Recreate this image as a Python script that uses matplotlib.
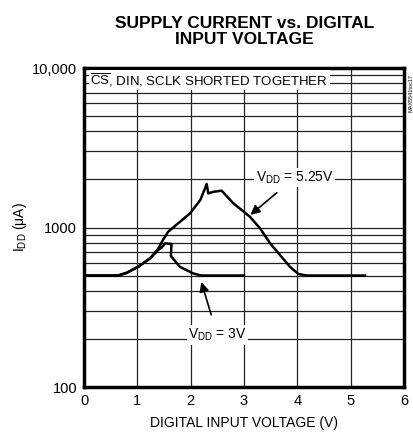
import matplotlib
matplotlib.use("Agg")
import matplotlib.pyplot as plt
from matplotlib import font_manager

# fuente estrecha si existe, si no Liberation Sans
nombres = set(f.name for f in font_manager.fontManager.ttflist)
estrecha = "Liberation Sans Narrow" in nombres
fuente = "Liberation Sans Narrow" if estrecha else "Liberation Sans"
k = 1.18 if estrecha else 1.0
plt.rcParams['font.family'] = [fuente, 'DejaVu Sans']
plt.rcParams['mathtext.fontset'] = 'custom'
plt.rcParams['mathtext.rm'] = fuente

# Datos (V, uA)
v_525 = [0.0, 0.64, 0.80, 1.02, 1.24, 1.39, 1.48, 1.58, 1.99, 2.18, 2.27, 2.30, 2.33,
         2.43, 2.58, 2.80, 3.11, 3.30, 3.49, 3.675, 3.86, 4.02, 4.18, 5.27]
i_525 = [500, 500, 520, 568, 641, 735, 835, 942, 1228, 1486, 1762, 1876, 1637,
         1675, 1702, 1419, 1169, 989, 796, 672, 568, 511, 500, 500]

v_3 = [0.0, 0.64, 0.80, 1.02, 1.24, 1.39, 1.46, 1.52, 1.64, 1.63, 1.80, 2.05, 2.20, 3.0]
i_3 = [500, 500, 520, 568, 641, 722, 751, 796, 789, 662, 566, 515, 500, 500]

x_ticks = [0, 1, 2, 3, 4, 5, 6]
y_ticks = [100, 1000, 10000]
y_tick_labels = ["100", "1000", "10,000"]

fig = plt.figure(figsize=(4.14, 4.43), dpi=100)
ax = fig.add_axes([0.2029, 0.1264, 0.7729, 0.7201])

ax.set_yscale("log")
ax.set_xlim(0, 6)
ax.set_ylim(100, 10000)

# rejilla
ax.grid(True, which="major", color="#222222", linewidth=0.9)
ax.grid(True, which="minor", axis="y", color="#222222", linewidth=0.9)
ax.set_axisbelow(True)

ax.plot(v_525, i_525, color="black", linewidth=1.8, zorder=3)
ax.plot(v_3, i_3, color="black", linewidth=1.8, zorder=3)

ax.set_xticks(x_ticks)
ax.set_xticklabels([str(t) for t in x_ticks], fontsize=10.5 * k)
ax.set_yticks(y_ticks)
ax.set_yticklabels(y_tick_labels, fontsize=10.5 * k)
ax.yaxis.set_minor_formatter(plt.NullFormatter())
ax.tick_params(which="both", length=0, pad=5)

for s in ax.spines.values():
    s.set_linewidth(2.5)

ax.set_xlabel("DIGITAL INPUT VOLTAGE (V)", fontsize=10 * k, labelpad=6)
ax.set_ylabel(r"I$_{\mathregular{DD}}$ ($\mathregular{\mu}$A)", fontsize=10 * k, labelpad=2)

fig.text(0.59, 0.965, "SUPPLY CURRENT vs. DIGITAL\nINPUT VOLTAGE", ha="center", va="top",
         fontsize=12.5 * k, fontweight="bold", linespacing=1.15)

caja = dict(facecolor="white", edgecolor="none", pad=1)
ax.text(0.12, 8400, r"$\overline{\mathregular{CS}}$, DIN, SCLK SHORTED TOGETHER", fontsize=9.5 * k,
        va="center", ha="left", bbox=caja, zorder=4)

ax.annotate(r"V$_{\mathregular{DD}}$ = 5.25V", xy=(3.12, 1200), xytext=(3.95, 2050),
            fontsize=10 * k, ha="center", va="center", bbox=caja, zorder=4,
            arrowprops=dict(arrowstyle="-|>", color="black", lw=1.2, mutation_scale=14,
                            shrinkA=6, shrinkB=0))
ax.annotate(r"V$_{\mathregular{DD}}$ = 3V", xy=(2.2, 455), xytext=(2.5, 212),
            fontsize=10 * k, ha="center", va="center", bbox=caja, zorder=4,
            arrowprops=dict(arrowstyle="-|>", color="black", lw=1.2, mutation_scale=14,
                            shrinkA=8, shrinkB=0))

fig.text(0.992, 0.79, "MAX5541toc17", rotation=90, fontsize=4, ha="center", va="center")

fig.savefig("out.png", dpi=100)
